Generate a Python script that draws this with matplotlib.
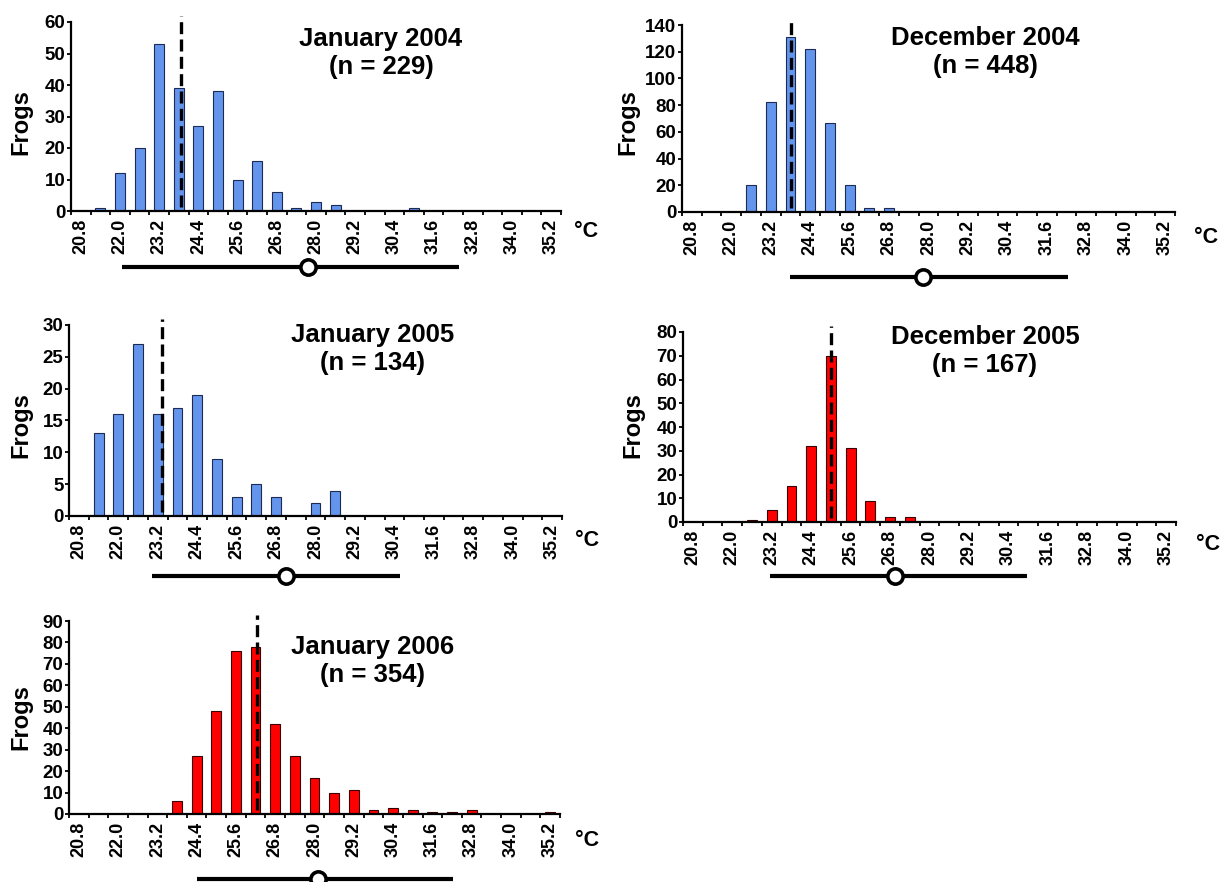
import matplotlib
matplotlib.use("Agg")
import matplotlib.pyplot as plt
from matplotlib.ticker import FixedLocator, FixedFormatter, NullFormatter

plt.rcParams['font.family'] = ['Liberation Sans', 'DejaVu Sans']
plt.rcParams['font.weight'] = 'bold'

# ---------------- data ----------------
bins = [20.8, 21.4, 22.0, 22.6, 23.2, 23.8, 24.4, 25.0, 25.6, 26.2, 26.8, 27.4, 28.0,
        28.6, 29.2, 29.8, 30.4, 31.0, 31.6, 32.2, 32.8, 33.4, 34.0, 34.6, 35.2]
tick_labels = ["20.8", "22.0", "23.2", "24.4", "25.6", "26.8", "28.0",
               "29.2", "30.4", "31.6", "32.8", "34.0", "35.2"]

panel_titles = ["January 2004", "December 2004", "January 2005", "December 2005", "January 2006"]
n_frogs = [229, 448, 134, 167, 354]

counts_jan2004 = [0, 1, 12, 20, 53, 39, 27, 38, 10, 16, 6, 1, 3, 2, 0, 0, 0, 1, 0, 0, 0, 0, 0, 0, 0]
counts_dec2004 = [0, 0, 0, 20, 82, 131, 122, 67, 20, 3, 3, 0, 0, 0, 0, 0, 0, 0, 0, 0, 0, 0, 0, 0, 0]
counts_jan2005 = [0, 13, 16, 27, 16, 17, 19, 9, 3, 5, 3, 0, 2, 4, 0, 0, 0, 0, 0, 0, 0, 0, 0, 0, 0]
counts_dec2005 = [0, 0, 0, 1, 5, 15, 32, 70, 31, 9, 2, 2, 0, 0, 0, 0, 0, 0, 0, 0, 0, 0, 0, 0, 0]
counts_jan2006 = [0, 0, 0, 0, 0, 6, 27, 48, 76, 78, 42, 27, 17, 10, 11, 2, 3, 2, 1, 1, 2, 0, 0, 0, 1]

mean_temp = [23.88, 23.83, 23.33, 25.0, 26.24]
range_low = [22.05, 23.8, 23.03, 23.16, 24.41]
range_mid = [27.76, 27.84, 27.10, 26.94, 28.10]
range_high = [32.38, 32.24, 30.56, 30.96, 32.23]

y_max = [60, 140, 30, 80, 90]
y_step = [10, 20, 5, 10, 10]

# ---------------- style / layout ----------------
BLUE = "#6495ED"
RED = "#FF0000"
bar_colors = [BLUE, BLUE, BLUE, RED, RED]
bar_edges = ["#1c2a55", "#1c2a55", "#1c2a55", "#3a0000", "#3a0000"]
all_counts = [counts_jan2004, counts_dec2004, counts_jan2005, counts_dec2005, counts_jan2006]

W, H = 1225, 882
# axes rects in pixels: left, top, right, bottom
ax_px = [(71, 22, 561, 211), (682, 25, 1175, 212), (69, 325, 562, 516),
         (683, 332, 1176, 522), (69, 621, 560, 814)]
title_px = [(381, 53), (985, 52), (373, 349), (985, 351), (373, 661)]
frogs_px = [(21, 122), (628, 122), (21, 425), (633, 425), (21, 717)]
degc_px = [(586, 232), (1206, 238), (587, 540), (1208, 545), (587, 840)]
range_y_axes = [-0.296, -0.348, -0.314, -0.284, -0.337]

fig = plt.figure(figsize=(W / 100, H / 100), dpi=100)

step = 0.6
boundaries = [bins[0] - step / 2 + step * k for k in range(len(bins) + 1)]
label_pos = bins[::2]

for i in range(5):
    l, t, r, b = ax_px[i]
    ax = fig.add_axes([l / W, 1 - b / H, (r - l) / W, (b - t) / H])
    ax.bar(bins, all_counts[i], width=0.3, color=bar_colors[i],
           edgecolor=bar_edges[i], linewidth=0.8, zorder=2)
    ax.set_xlim(boundaries[0], boundaries[-1])
    ax.set_ylim(0, y_max[i])
    ax.set_yticks(list(range(0, y_max[i] + 1, y_step[i])))
    ax.tick_params(axis='y', direction='out', length=3, width=1.3, labelsize=13.5, pad=1)
    ax.xaxis.set_major_locator(FixedLocator(boundaries))
    ax.xaxis.set_major_formatter(NullFormatter())
    ax.xaxis.set_minor_locator(FixedLocator(label_pos))
    ax.xaxis.set_minor_formatter(FixedFormatter(tick_labels))
    ax.tick_params(axis='x', which='major', direction='out', length=3, width=1.3)
    ax.tick_params(axis='x', which='minor', length=0, pad=5.5, labelsize=13,
                   labelrotation=90)
    for s in ['top', 'right']:
        ax.spines[s].set_visible(False)
    for s in ['left', 'bottom']:
        ax.spines[s].set_linewidth(1.6)
    for lab in ax.get_xticklabels(minor=True):
        lab.set_va('top')

    # mean dashed line
    ax.plot([mean_temp[i], mean_temp[i]], [0.02, 1.03], transform=ax.get_xaxis_transform(),
            color='black', lw=2.4, dashes=(3.6, 1.6), clip_on=False, zorder=3)

    # range line with circle
    ry = range_y_axes[i]
    ax.plot([range_low[i], range_high[i]], [ry, ry], transform=ax.get_xaxis_transform(),
            color='black', lw=3, clip_on=False, solid_capstyle='butt')
    ax.plot([range_mid[i]], [ry], transform=ax.get_xaxis_transform(), marker='o',
            ms=11, mfc='white', mec='black', mew=2.6, clip_on=False, zorder=4)

    tx, ty = title_px[i]
    fig.text(tx / W, 1 - ty / H, f"{panel_titles[i]}\n(n = {n_frogs[i]})",
             ha='center', va='center', fontsize=18.5, linespacing=1.25)
    fx, fy = frogs_px[i]
    fig.text(fx / W, 1 - fy / H, "Frogs", rotation=90, ha='center', va='center', fontsize=17)
    cx, cy = degc_px[i]
    fig.text(cx / W, 1 - cy / H, "°C", ha='center', va='center', fontsize=15.5)

fig.savefig("out.png", dpi=100)
